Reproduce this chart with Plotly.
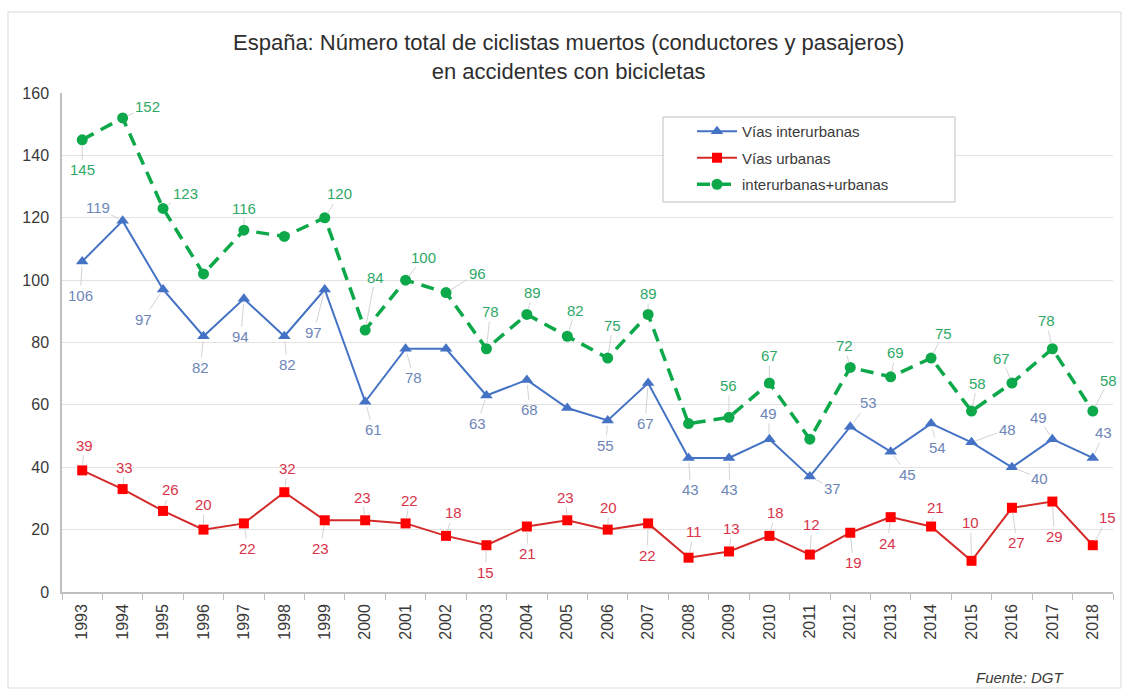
import plotly.graph_objects as go

years = [str(y) for y in range(1993, 2019)]

interurbanas = [106, 119, 97, 82, 94, 82, 97, 61, 78, 78, 63, 68, 59, 55, 67,
                43, 43, 49, 37, 53, 45, 54, 48, 40, 49, 43]
urbanas = [39, 33, 26, 20, 22, 32, 23, 23, 22, 18, 15, 21, 23, 20, 22,
           11, 13, 18, 12, 19, 24, 21, 10, 27, 29, 15]
total = [145, 152, 123, 102, 116, 114, 120, 84, 100, 96, 78, 89, 82, 75, 89,
         54, 56, 67, 49, 72, 69, 75, 58, 67, 78, 58]

# which points carry a value label
show_inter = [True] * 26
show_inter[years.index("2002")] = False
show_inter[years.index("2005")] = False
show_total = [True] * 26
for y in ("1996", "1998", "2008", "2011"):
    show_total[years.index(y)] = False
show_urb = [True] * 26

# label offsets (px) from each point, for readability
off_total = [(0, 30), (25, -11), (22, -15), (0, 0), (0, -22), (0, 0), (15, -24),
             (10, -53), (18, -23), (31, -19), (4, -37), (6, -22), (8, -26),
             (5, -33), (0, -21), (0, 0), (0, -32), (0, -28), (0, 0), (-6, -22),
             (5, -24), (12, -25), (6, -28), (-10, -25), (-6, -28), (16, -31)]
off_inter = [(-2, 34), (-25, -13), (-20, 30), (-3, 31), (-3, 38), (3, 28),
             (-11, 43), (8, 28), (8, 29), (0, 0), (-9, 28), (3, 30), (0, 0),
             (-2, 25), (-3, 40), (2, 32), (1, 32), (-1, -26), (23, 12),
             (18, -24), (17, 23), (6, 24), (36, -13), (28, 11), (-14, -22),
             (11, -25)]
off_urb = [(2, -25), (2, -22), (7, -21), (0, -25), (4, 25), (3, -24), (-4, 28),
           (-3, -23), (4, -23), (7, -23), (-1, 27), (1, 27), (-2, -23),
           (1, -22), (-1, 32), (5, -26), (3, -23), (6, -23), (2, -30),
           (3, 30), (-3, 26), (4, -19), (-1, -38), (5, 35), (2, 35), (15, -28)]

BLUE = "#4472C4"
GREEN = "#0DA84A"
TEXT = "#3A3A3A"
FONT = "Liberation Sans"

fig = go.Figure()
fig.add_trace(go.Scatter(
    x=years, y=interurbanas, name="Vías interurbanas", mode="lines+markers",
    legendgroup="a", line=dict(color=BLUE, width=2),
    marker=dict(symbol="triangle-up", size=11, color=BLUE)))
fig.add_trace(go.Scatter(
    x=years, y=urbanas, name="Vías urbanas", mode="lines+markers",
    legendgroup="b", line=dict(color="#D42A2A", width=2),
    marker=dict(symbol="square", size=10, color="#FF0000")))
fig.add_trace(go.Scatter(
    x=years, y=total, name="interurbanas+urbanas", mode="lines+markers",
    legendgroup="c", line=dict(color=GREEN, width=3.5, dash="13px,8px"),
    marker=dict(symbol="circle", size=11, color=GREEN)))

annotations = []


def add_labels(values, offsets, show, color):
    # category positions are addressed by index on the category axis
    for i, (v, (dx, dy), s) in enumerate(zip(values, offsets, show)):
        if not s:
            continue
        annotations.append(dict(
            x=i, y=v, xref="x", yref="y", text=str(v),
            showarrow=True, arrowhead=0, arrowwidth=0.8, arrowcolor="#C8C8C8",
            standoff=5, ax=dx, ay=dy,
            font=dict(size=15, color=color, family=FONT)))


add_labels(total, off_total, show_total, "#2FA866")
add_labels(interurbanas, off_inter, show_inter, "#6E86B8")
add_labels(urbanas, off_urb, show_urb, "#D8334A")

annotations.append(dict(
    text="España: Número total de ciclistas muertos (conductores y pasajeros)"
         "<br>en accidentes con bicicletas",
    xref="paper", yref="paper", x=(568 - 62) / 1051, y=(592 - 57) / 499,
    showarrow=False, xanchor="center", yanchor="middle",
    font=dict(size=22, color="#2E2E2E", family=FONT)))
annotations.append(dict(
    text="<i>Fuente: DGT</i>", xref="paper", yref="paper",
    x=(1020 - 62) / 1051, y=(592 - 677) / 499, showarrow=False,
    xanchor="center", yanchor="middle",
    font=dict(size=15, color=TEXT, family=FONT)))


def px_x(p):
    return (p - 62) / 1051


def px_y(p):
    return (592 - p) / 499


fig.update_layout(
    width=1127, height=690,
    margin=dict(l=62, r=14, t=93, b=98),
    paper_bgcolor="white", plot_bgcolor="white",
    font=dict(family=FONT, size=15, color=TEXT),
    annotations=annotations,
    showlegend=True,
    legend=dict(x=px_x(692), y=px_y(115),
                xanchor="left", yanchor="top",
                borderwidth=0, bgcolor="rgba(0,0,0,0)",
                font=dict(size=15, color=TEXT),
                traceorder="grouped", tracegroupgap=4, itemwidth=40),
    shapes=[
        # outer chart frame
        dict(type="rect", xref="paper", yref="paper",
             x0=px_x(8), x1=px_x(1121), y0=px_y(688), y1=px_y(12),
             line=dict(color="#D9D9D9", width=1), layer="below"),
        # legend box
        dict(type="rect", xref="paper", yref="paper",
             x0=px_x(663), x1=px_x(955), y0=px_y(202), y1=px_y(117),
             line=dict(color="#BFBFBF", width=1), fillcolor="white",
             layer="above"),
    ],
)
fig.update_xaxes(
    type="category", range=[-0.5, len(years) - 0.5],
    showgrid=False, showline=True, linecolor="#BFBFBF",
    linewidth=1.5, ticks="outside", tickson="boundaries", ticklen=6,
    tickcolor="#BFBFBF", tickangle=-90, ticklabelstandoff=4,
    tickfont=dict(size=16, color=TEXT))
fig.update_yaxes(
    range=[0, 160], dtick=20, showgrid=True, gridcolor="#E3E3E3",
    showline=True, linecolor="#BFBFBF", linewidth=1.5, zeroline=False,
    ticklabelstandoff=8,
    tickfont=dict(size=16, color=TEXT))

fig.write_html("out.html")
